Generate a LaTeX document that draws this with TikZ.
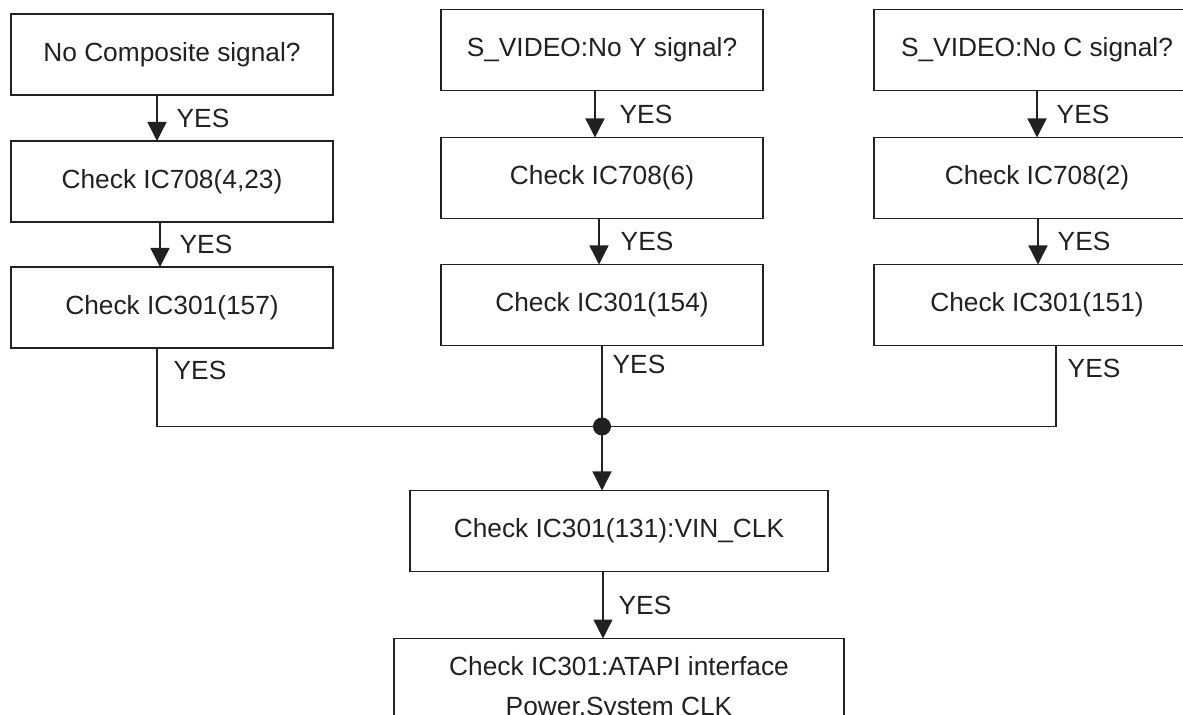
\documentclass[tikz,border=0pt]{standalone}
\usepackage{fontspec}
\setmainfont{Liberation Sans}
\usetikzlibrary{positioning, arrows.meta, calc}

\begin{document}
\begin{tikzpicture}[
  x=0.5pt, y=-0.5pt,
  >={Triangle[length=9.5pt, width=9.5pt]},
  node distance=23pt and 54pt,
  font=\fontsize{13.15pt}{20pt}\selectfont,
  color=black!87,
  box/.style={draw, line width=0.9pt, outer sep=0pt, minimum width=161pt, minimum height=40.5pt, align=center},
  widebox/.style={box, minimum width=163pt},
  arr/.style={->, line width=0.7pt},
  wire/.style={line width=0.7pt},
  yes/.style={right=9.5pt, inner sep=0pt}
]
  \useasboundingbox (0,0) rectangle (1183,715);
  \clip (0,0) rectangle (1183,715);

  \node[box] (comp) at (172,54.5) {No Composite signal?};
  \node[box, below=of comp] (ic708a) {Check IC708(4,23)};
  \node[box, below=22.5pt of ic708a] (ic301a) {Check IC301(157)};

  \node[box, right=of comp, yshift=2.25pt] (yvid) {S\_VIDEO:No Y signal?};
  \node[box, below=23.5pt of yvid] (ic708b) {Check IC708(6)};
  \node[box, below=of ic708b] (ic301b) {Check IC301(154)};

  \node[widebox, right=55.5pt of yvid] (cvid) {S\_VIDEO:No C signal?};
  \node[widebox, below=23.5pt of cvid] (ic708c) {Check IC708(2)};
  \node[widebox, below=of ic708c] (ic301c) {Check IC301(151)};

  \coordinate[below=40.5pt of ic301b] (junc);

  \node[box, below=32pt of junc, xshift=8.5pt, minimum width=209pt] (vinclk) {Check IC301(131):VIN\_CLK};
  \node[box, below=33.5pt of vinclk, minimum width=225pt, minimum height=50pt] (atapi) {Check IC301:ATAPI interface\\Power,System CLK};

  \draw[arr] ([xshift=-7.5pt]comp.south) -- node[yes]{YES} ([xshift=-7.5pt]ic708a.north);
  \draw[arr] ([xshift=-6pt]ic708a.south) -- node[yes]{YES} ([xshift=-6pt]ic301a.north);
  \draw[arr] ([xshift=-3.5pt]yvid.south) -- node[yes, right=12pt]{YES} ([xshift=-3.5pt]ic708b.north);
  \draw[arr] ([xshift=-1.5pt]ic708b.south) -- node[yes, right=10.5pt]{YES} ([xshift=-1.5pt]ic301b.north);
  \draw[arr] (cvid.south) -- node[yes]{YES} (ic708c.north);
  \draw[arr] ([xshift=0.5pt]ic708c.south) -- node[yes]{YES} ([xshift=0.5pt]ic301c.north);

  \draw[wire] ([xshift=-7.5pt]ic301a.south) -- node[yes, right=8pt, pos=0.28]{YES} ([xshift=-7.5pt]ic301a.south |- junc)
    -- ([xshift=9.5pt]ic301c.south |- junc) -- node[yes, right=5.5pt, pos=0.72]{YES} ([xshift=9.5pt]ic301c.south);
  \draw[wire] (ic301b.south) -- node[yes, right=5pt, pos=0.24]{YES} (junc);
  \fill (junc) circle (4.5pt);

  \draw[arr] (junc) -- (junc |- vinclk.north);
  \draw[arr] ([xshift=-8pt]vinclk.south) -- node[yes, right=7.5pt]{YES} ([xshift=-8pt]atapi.north);
\end{tikzpicture}
\end{document}
